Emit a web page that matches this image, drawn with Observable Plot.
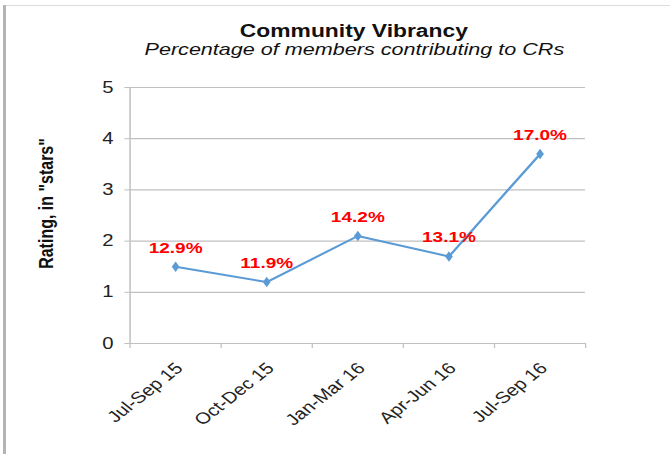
<!DOCTYPE html>
<html>
<head>
<meta charset="utf-8">
<script src="https://cdn.jsdelivr.net/npm/d3@7"></script>
<script src="https://cdn.jsdelivr.net/npm/@observablehq/plot@0.6"></script>
<style>
  html, body { margin: 0; padding: 0; background: #fff; }
  #wrap { position: relative; width: 670px; height: 454px; overflow: hidden; font-family: "Liberation Sans", Arial, sans-serif; }
  #chart { position: absolute; left: 0; top: 0; }
  .vline { position: absolute; left: 3px; top: 5px; width: 3px; bottom: 0; background: #b4b4b4; }
  .hline { position: absolute; left: 6px; right: 0; top: 5px; height: 1px; background: #dcdcdc; }
  .title, .subtitle { position: absolute; left: 19px; width: 670px; text-align: center; color: #111; white-space: nowrap; }
  .title span, .subtitle span { display: inline-block; transform: scaleX(1.269); }
  .title { top: 22px; font-size: 18px; line-height: 18px; font-weight: bold; }
  .subtitle { top: 41px; font-size: 17px; line-height: 17px; font-style: italic; }
</style>
</head>
<body>
<div id="wrap">
  <div class="vline"></div>
  <div class="hline"></div>
  <div id="chart"></div>
  <div class="title"><span>Community Vibrancy</span></div>
  <div class="subtitle"><span>Percentage of members contributing to CRs</span></div>
</div>
<script>
const categories = ["Jul-Sep 15", "Oct-Dec 15", "Jan-Mar 16", "Apr-Jun 16", "Jul-Sep 16"];
const ratings = [1.5, 1.2, 2.1, 1.7, 3.7];
const pctLabels = ["12.9%", "11.9%", "14.2%", "13.1%", "17.0%"];
const yTicks = [0, 1, 2, 3, 4, 5];
const yLabel = "Rating, in \"stars\"";

const rows = categories.map((c, i) => ({pos: i + 0.5, category: c, rating: ratings[i], label: pctLabels[i]}));
const edgeTicks = d3.range(categories.length + 1);

const STRETCH = 1.269;
const W = Math.round(670 / STRETCH);
const H = 454;
const GRID = "#c0c0c0";
const BLUE = "#5b9bd5";

const plot = Plot.plot({
  width: W,
  height: H,
  marginLeft: 102,
  marginRight: 67,
  marginTop: 87,
  marginBottom: 111,
  style: {fontFamily: "'Liberation Sans', Arial, sans-serif", fontSize: "16px", background: "transparent", color: "#222"},
  x: {domain: [0, categories.length], axis: null},
  y: {domain: [0, 5], axis: null},
  marks: [
    Plot.gridY(yTicks.filter(t => t > 0), {stroke: GRID, strokeOpacity: 1, strokeWidth: 1.2}),
    Plot.ruleY([0], {stroke: GRID, strokeWidth: 1.2}),
    Plot.ruleX([0], {y1: 0, y2: 5, stroke: GRID, strokeWidth: 1.2}),
    Plot.axisY({ticks: yTicks, tickFormat: d => String(d), tickSize: 4, tickPadding: 9, stroke: GRID, fill: "#222", fontSize: 16, label: null}),
    Plot.axisX({ticks: edgeTicks, tickSize: 5, tickFormat: () => "", stroke: GRID, label: null}),
    Plot.text(rows, {x: "pos", text: "category", frameAnchor: "bottom", rotate: -45, textAnchor: "end", lineAnchor: "middle", dx: 3, dy: 22, fontSize: 16, fill: "#222"}),
    Plot.text([yLabel], {frameAnchor: "left", rotate: -90, textAnchor: "middle", dx: -66, dy: -12, fontSize: 16, fontWeight: "bold", fill: "#111"}),
    Plot.line(rows, {x: "pos", y: "rating", stroke: BLUE, strokeWidth: 2}),
    Plot.dot(rows, {x: "pos", y: "rating", symbol: "diamond", r: 3.2, fill: BLUE, stroke: "none"}),
    Plot.text(rows, {x: "pos", y: "rating", text: "label", dy: -19, fill: "#ff0000", fontWeight: "bold", fontSize: 15})
  ]
});

plot.setAttribute("preserveAspectRatio", "none");
plot.setAttribute("width", 670);
plot.setAttribute("height", H);
plot.style.width = "670px";
plot.style.height = H + "px";
plot.style.maxWidth = "none";
document.getElementById("chart").appendChild(plot);
</script>
</body>
</html>
